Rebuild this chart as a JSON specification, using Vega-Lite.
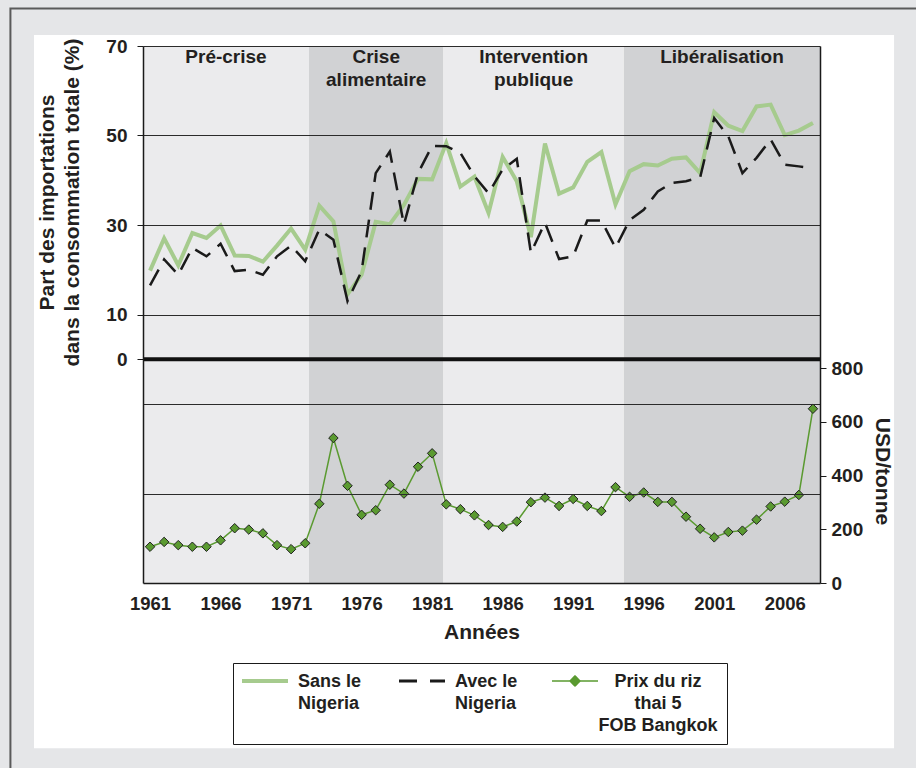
{
  "$schema": "https://vega.github.io/schema/vega-lite/v6.json",
  "width": 677,
  "height": 537,
  "autosize": {"type": "none"},
  "padding": {"left": 143, "top": 46, "right": 96, "bottom": 185},
  "background": "#E5E6E8",
  "config": {
    "font": "Liberation Sans",
    "view": {"stroke": null},
    "axis": {
      "labelFont": "Liberation Sans",
      "labelFontWeight": "bold",
      "labelColor": "#231F20",
      "titleFont": "Liberation Sans",
      "titleFontWeight": "bold",
      "titleColor": "#231F20",
      "domainColor": "#1A1A1A",
      "domainWidth": 1.5,
      "tickColor": "#1A1A1A"
    }
  },
  "datasets": {
    "annees": [
      {"annee": 1961, "Sans le Nigeria": 19.8, "Avec le Nigeria": 16.5, "Prix du riz thai 5 FOB Bangkok": 135},
      {"annee": 1962, "Sans le Nigeria": 27.0, "Avec le Nigeria": 22.3, "Prix du riz thai 5 FOB Bangkok": 153},
      {"annee": 1963, "Sans le Nigeria": 21.0, "Avec le Nigeria": 18.9, "Prix du riz thai 5 FOB Bangkok": 141},
      {"annee": 1964, "Sans le Nigeria": 28.2, "Avec le Nigeria": 24.9, "Prix du riz thai 5 FOB Bangkok": 135},
      {"annee": 1965, "Sans le Nigeria": 27.1, "Avec le Nigeria": 23.0, "Prix du riz thai 5 FOB Bangkok": 135},
      {"annee": 1966, "Sans le Nigeria": 29.9, "Avec le Nigeria": 25.8, "Prix du riz thai 5 FOB Bangkok": 159},
      {"annee": 1967, "Sans le Nigeria": 23.2, "Avec le Nigeria": 19.7, "Prix du riz thai 5 FOB Bangkok": 204},
      {"annee": 1968, "Sans le Nigeria": 23.1, "Avec le Nigeria": 20.0, "Prix du riz thai 5 FOB Bangkok": 199},
      {"annee": 1969, "Sans le Nigeria": 21.8, "Avec le Nigeria": 18.9, "Prix du riz thai 5 FOB Bangkok": 185},
      {"annee": 1970, "Sans le Nigeria": 25.4, "Avec le Nigeria": 23.0, "Prix du riz thai 5 FOB Bangkok": 141},
      {"annee": 1971, "Sans le Nigeria": 29.2, "Avec le Nigeria": 25.4, "Prix du riz thai 5 FOB Bangkok": 126},
      {"annee": 1972, "Sans le Nigeria": 24.5, "Avec le Nigeria": 21.9, "Prix du riz thai 5 FOB Bangkok": 148},
      {"annee": 1973, "Sans le Nigeria": 34.3, "Avec le Nigeria": 29.0, "Prix du riz thai 5 FOB Bangkok": 295},
      {"annee": 1974, "Sans le Nigeria": 30.8, "Avec le Nigeria": 26.7, "Prix du riz thai 5 FOB Bangkok": 540},
      {"annee": 1975, "Sans le Nigeria": 14.5, "Avec le Nigeria": 13.0, "Prix du riz thai 5 FOB Bangkok": 362},
      {"annee": 1976, "Sans le Nigeria": 18.9, "Avec le Nigeria": 19.7, "Prix du riz thai 5 FOB Bangkok": 254},
      {"annee": 1977, "Sans le Nigeria": 30.7, "Avec le Nigeria": 41.6, "Prix du riz thai 5 FOB Bangkok": 271},
      {"annee": 1978, "Sans le Nigeria": 30.2, "Avec le Nigeria": 46.4, "Prix du riz thai 5 FOB Bangkok": 366},
      {"annee": 1979, "Sans le Nigeria": 34.5, "Avec le Nigeria": 30.1, "Prix du riz thai 5 FOB Bangkok": 333},
      {"annee": 1980, "Sans le Nigeria": 40.3, "Avec le Nigeria": 41.6, "Prix du riz thai 5 FOB Bangkok": 433},
      {"annee": 1981, "Sans le Nigeria": 40.2, "Avec le Nigeria": 47.7, "Prix du riz thai 5 FOB Bangkok": 483},
      {"annee": 1982, "Sans le Nigeria": 48.3, "Avec le Nigeria": 47.6, "Prix du riz thai 5 FOB Bangkok": 293},
      {"annee": 1983, "Sans le Nigeria": 38.6, "Avec le Nigeria": 46.1, "Prix du riz thai 5 FOB Bangkok": 275},
      {"annee": 1984, "Sans le Nigeria": 40.8, "Avec le Nigeria": 40.9, "Prix du riz thai 5 FOB Bangkok": 252},
      {"annee": 1985, "Sans le Nigeria": 32.7, "Avec le Nigeria": 37.1, "Prix du riz thai 5 FOB Bangkok": 216},
      {"annee": 1986, "Sans le Nigeria": 45.2, "Avec le Nigeria": 42.4, "Prix du riz thai 5 FOB Bangkok": 209},
      {"annee": 1987, "Sans le Nigeria": 39.8, "Avec le Nigeria": 44.8, "Prix du riz thai 5 FOB Bangkok": 229},
      {"annee": 1988, "Sans le Nigeria": 27.3, "Avec le Nigeria": 23.8, "Prix du riz thai 5 FOB Bangkok": 301},
      {"annee": 1989, "Sans le Nigeria": 48.2, "Avec le Nigeria": 30.5, "Prix du riz thai 5 FOB Bangkok": 318},
      {"annee": 1990, "Sans le Nigeria": 37.0, "Avec le Nigeria": 22.4, "Prix du riz thai 5 FOB Bangkok": 287},
      {"annee": 1991, "Sans le Nigeria": 38.4, "Avec le Nigeria": 23.0, "Prix du riz thai 5 FOB Bangkok": 313},
      {"annee": 1992, "Sans le Nigeria": 44.1, "Avec le Nigeria": 31.0, "Prix du riz thai 5 FOB Bangkok": 287},
      {"annee": 1993, "Sans le Nigeria": 46.3, "Avec le Nigeria": 31.0, "Prix du riz thai 5 FOB Bangkok": 268},
      {"annee": 1994, "Sans le Nigeria": 34.6, "Avec le Nigeria": 24.9, "Prix du riz thai 5 FOB Bangkok": 357},
      {"annee": 1995, "Sans le Nigeria": 42.0, "Avec le Nigeria": 31.1, "Prix du riz thai 5 FOB Bangkok": 321},
      {"annee": 1996, "Sans le Nigeria": 43.6, "Avec le Nigeria": 33.4, "Prix du riz thai 5 FOB Bangkok": 337},
      {"annee": 1997, "Sans le Nigeria": 43.3, "Avec le Nigeria": 37.5, "Prix du riz thai 5 FOB Bangkok": 302},
      {"annee": 1998, "Sans le Nigeria": 44.8, "Avec le Nigeria": 39.4, "Prix du riz thai 5 FOB Bangkok": 302},
      {"annee": 1999, "Sans le Nigeria": 45.1, "Avec le Nigeria": 39.8, "Prix du riz thai 5 FOB Bangkok": 247},
      {"annee": 2000, "Sans le Nigeria": 41.6, "Avec le Nigeria": 40.6, "Prix du riz thai 5 FOB Bangkok": 202},
      {"annee": 2001, "Sans le Nigeria": 55.2, "Avec le Nigeria": 53.9, "Prix du riz thai 5 FOB Bangkok": 170},
      {"annee": 2002, "Sans le Nigeria": 52.2, "Avec le Nigeria": 49.8, "Prix du riz thai 5 FOB Bangkok": 190},
      {"annee": 2003, "Sans le Nigeria": 51.0, "Avec le Nigeria": 41.6, "Prix du riz thai 5 FOB Bangkok": 195},
      {"annee": 2004, "Sans le Nigeria": 56.5, "Avec le Nigeria": 45.0, "Prix du riz thai 5 FOB Bangkok": 236},
      {"annee": 2005, "Sans le Nigeria": 56.9, "Avec le Nigeria": 49.1, "Prix du riz thai 5 FOB Bangkok": 285},
      {"annee": 2006, "Sans le Nigeria": 50.1, "Avec le Nigeria": 43.5, "Prix du riz thai 5 FOB Bangkok": 303},
      {"annee": 2007, "Sans le Nigeria": 51.1, "Avec le Nigeria": 43.1, "Prix du riz thai 5 FOB Bangkok": 328},
      {"annee": 2008, "Sans le Nigeria": 52.8, "Avec le Nigeria": 42.7, "Prix du riz thai 5 FOB Bangkok": 649}
    ],
    "periodes": [
      {"periode": "Pré-crise", "debut": 1960.5, "fin": 1972.27},
      {"periode": "Crise alimentaire", "debut": 1972.27, "fin": 1981.8},
      {"periode": "Intervention publique", "debut": 1981.8, "fin": 1994.6},
      {"periode": "Libéralisation", "debut": 1994.6, "fin": 2008.5}
    ]
  },
  "layer": [
    {
      "layer": [
        {
          "data": {"values": [{}]},
          "mark": {"type": "rect", "fill": "#E5E6E8", "stroke": "#5A5A5A", "strokeWidth": 2},
          "encoding": {
            "x": {"datum": 1951.1, "type": "quantitative"},
            "x2": {"datum": 2040},
            "y": {"datum": 78.4, "type": "quantitative"},
            "y2": {"datum": -140}
          }
        },
        {
          "data": {"values": [{}]},
          "mark": {"type": "rect", "fill": "white"},
          "encoding": {
            "x": {"datum": 1952.77, "type": "quantitative"},
            "x2": {"datum": 2013.75},
            "y": {"datum": 72.46, "type": "quantitative"},
            "y2": {"datum": -86.95}
          }
        },
        {
          "data": {"name": "periodes"},
          "mark": {"type": "rect"},
          "encoding": {
            "x": {"field": "debut", "type": "quantitative"},
            "x2": {"field": "fin"},
            "fill": {
              "field": "periode",
              "type": "nominal",
              "scale": {
                "domain": ["Pré-crise", "Crise alimentaire", "Intervention publique", "Libéralisation"],
                "range": ["#EBEBED", "#D1D2D4", "#EBEBED", "#D1D2D4"]
              },
              "legend": null
            }
          }
        },
        {
          "data": {"name": "periodes"},
          "transform": [{"calculate": "(datum.debut + datum.fin) / 2", "as": "milieu"}],
          "mark": {
            "type": "text",
            "font": "Liberation Sans",
            "fontWeight": "bold",
            "fontSize": 19,
            "color": "#231F20",
            "baseline": "top",
            "align": "center",
            "lineBreak": " ",
            "lineHeight": 23,
            "dy": 2
          },
          "encoding": {
            "x": {"field": "milieu", "type": "quantitative"},
            "y": {"datum": 70, "type": "quantitative"},
            "text": {"field": "periode"}
          }
        },
        {
          "data": {"values": [{}]},
          "mark": {"type": "rule", "color": "#111111", "strokeWidth": 4},
          "encoding": {"y": {"datum": 0, "type": "quantitative"}}
        },
        {
          "data": {"name": "annees"},
          "transform": [
            {"fold": ["Sans le Nigeria", "Avec le Nigeria"], "as": ["serie", "valeur"]},
            {"filter": "datum.serie === 'Sans le Nigeria'"}
          ],
          "mark": {"type": "line", "strokeWidth": 4, "strokeJoin": "miter"},
          "encoding": {
            "x": {
              "field": "annee",
              "type": "quantitative",
              "scale": {"domain": [1960.5, 2008.5], "nice": false, "zero": false},
              "axis": {
                "values": [1961, 1966, 1971, 1976, 1981, 1986, 1991, 1996, 2001, 2006],
                "format": "d",
                "grid": false,
                "ticks": false,
                "labelFontSize": 18.5,
                "labelPadding": 11,
                "title": "Années",
                "titleFontSize": 21,
                "titlePadding": 9,
                "zindex": 2
              }
            },
            "y": {
              "field": "valeur",
              "type": "quantitative",
              "scale": {"domain": [-50, 70], "nice": false, "zero": false},
              "axis": {
                "values": [70, 50, 30, 10, 0, -10, -30],
                "labelExpr": "datum.value < 0 ? '' : datum.label",
                "grid": true,
                "gridColor": "#2B2B2B",
                "gridWidth": 1,
                "gridOpacity": {"condition": {"test": "datum.value === 0", "value": 0}, "value": 1},
                "tickOpacity": {"condition": {"test": "datum.value < 0", "value": 0}, "value": 1},
                "tickSize": 6,
                "labelFontSize": 19,
                "labelPadding": 10,
                "title": ["Part des importations", "dans la consommation totale (%)"],
                "titleFontSize": 21,
                "titleLineHeight": 25,
                "titleAngle": 270,
                "titleAlign": "center",
                "titleBaseline": "middle",
                "titleX": -96,
                "titleY": 156,
                "zindex": 2
              }
            },
            "color": {
              "field": "serie",
              "type": "nominal",
              "scale": {
                "domain": ["Sans le Nigeria", "Avec le Nigeria", "Prix du riz thai 5 FOB Bangkok"],
                "range": ["#A6CB8E", "#1A1A1A", "#5A9A30"]
              },
              "legend": {
                "title": null,
                "orient": "none",
                "legendX": 90,
                "legendY": 617,
                "direction": "horizontal",
                "columns": 3,
                "symbolType": "stroke",
                "symbolSize": 2116,
                "symbolOffset": 14,
                "labelFont": "Liberation Sans",
                "labelFontSize": 18,
                "labelFontWeight": "bold",
                "labelColor": "#231F20",
                "labelLimit": 0,
                "labelOffset": 24,
                "labelBaseline": "top",
                "columnPadding": 31,
                "padding": 9,
                "fillColor": "white",
                "strokeColor": "#1A1A1A",
                "labelExpr": "datum.label === 'Sans le Nigeria' ? ['Sans le', 'Nigeria', ' '] : datum.label === 'Avec le Nigeria' ? ['Avec le', 'Nigeria', ' '] : ['Prix du riz', 'thai 5', 'FOB Bangkok']",
                "encode": {
                  "symbols": {
                    "update": {
                      "shape": {"signal": "datum.index === 2 ? 'M-1,0H1M0,-0.22L0.22,0L0,0.22L-0.22,0Z' : 'stroke'"},
                      "fill": {"signal": "datum.index === 2 ? '#4E9A2A' : 'transparent'"},
                      "strokeWidth": {"signal": "datum.index === 0 ? 4 : datum.index === 1 ? 3 : 1.5"},
                      "strokeDash": {"signal": "datum.index === 1 ? [18, 13] : [1, 0]"}
                    }
                  },
                  "labels": {
                    "update": {
                      "lineHeight": {"value": 22},
                      "align": {"signal": "datum.index === 2 ? 'center' : 'left'"},
                      "dx": {"signal": "datum.index === 2 ? 50 : 0"},
                      "dy": {"value": -8}
                    }
                  }
                }
              }
            }
          }
        },
        {
          "data": {"name": "annees"},
          "transform": [
            {"fold": ["Sans le Nigeria", "Avec le Nigeria"], "as": ["serie", "valeur"]},
            {"filter": "datum.serie === 'Avec le Nigeria'"}
          ],
          "mark": {"type": "line", "strokeWidth": 2.5, "strokeDash": [18, 10]},
          "encoding": {
            "x": {"field": "annee", "type": "quantitative"},
            "y": {"field": "valeur", "type": "quantitative"},
            "color": {"field": "serie", "type": "nominal"}
          }
        }
      ]
    },
    {
      "data": {"name": "annees"},
      "transform": [
        {"fold": ["Prix du riz thai 5 FOB Bangkok"], "as": ["serie", "valeur"]}
      ],
      "mark": {
        "type": "line",
        "strokeWidth": 1.5,
        "point": {"shape": "diamond", "filled": true, "size": 90, "stroke": "#222222", "strokeWidth": 1}
      },
      "encoding": {
        "x": {"field": "annee", "type": "quantitative"},
        "y": {
          "field": "valeur",
          "type": "quantitative",
          "scale": {"domain": [0, 2000], "nice": false, "zero": true},
          "axis": {
            "orient": "right",
            "values": [0, 200, 400, 600, 800],
            "grid": false,
            "tickSize": 6,
            "labelFontSize": 19,
            "labelPadding": 5,
            "title": "USD/tonne",
            "titleFontSize": 21,
            "titleAngle": 90,
            "titleAlign": "center",
            "titleBaseline": "middle",
            "titleX": 61,
            "titleY": 425,
            "zindex": 2
          }
        },
        "color": {"field": "serie", "type": "nominal"}
      }
    }
  ],
  "resolve": {"scale": {"y": "independent"}}
}
